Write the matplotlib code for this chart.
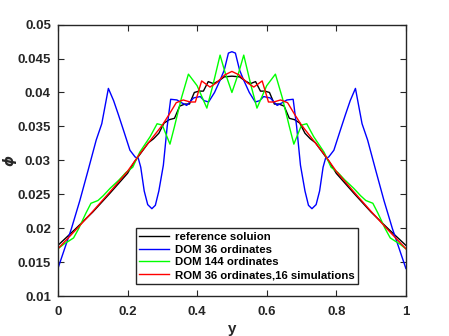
import numpy as np
import matplotlib.pyplot as plt

# reference solution
x_ref = [0.000, 0.050, 0.100, 0.150, 0.200, 0.220, 0.240, 0.260, 0.275, 0.290,
         0.305, 0.320, 0.335, 0.350, 0.365, 0.378, 0.392, 0.405, 0.418, 0.432,
         0.447, 0.462, 0.478, 0.500, 0.522, 0.538, 0.553, 0.568, 0.582, 0.595,
         0.608, 0.622, 0.635, 0.650, 0.665, 0.680, 0.695, 0.710, 0.725, 0.740,
         0.760, 0.780, 0.800, 0.850, 0.900, 0.950, 1.000]
y_ref = [0.0175, 0.0199, 0.0224, 0.0252, 0.0281, 0.0298, 0.0312, 0.0326, 0.0332, 0.0340,
         0.0355, 0.0360, 0.0362, 0.0380, 0.0383, 0.0383, 0.0400, 0.0402, 0.0402, 0.0416,
         0.0413, 0.0417, 0.0423, 0.0424, 0.0423, 0.0417, 0.0413, 0.0416, 0.0402, 0.0402,
         0.0400, 0.0383, 0.0383, 0.0380, 0.0362, 0.0360, 0.0355, 0.0340, 0.0332, 0.0326,
         0.0312, 0.0298, 0.0281, 0.0252, 0.0224, 0.0199, 0.0175]

# DOM 36 ordinates
x_d36 = [0.000, 0.039, 0.063, 0.087, 0.110, 0.126, 0.145, 0.160, 0.174, 0.190,
         0.207, 0.222, 0.231, 0.238, 0.248, 0.258, 0.270, 0.280, 0.290, 0.303,
         0.314, 0.324, 0.342, 0.355, 0.370, 0.390, 0.409, 0.420, 0.433, 0.450,
         0.466, 0.478, 0.490, 0.500, 0.510, 0.522, 0.534, 0.550, 0.567, 0.580,
         0.591, 0.610, 0.630, 0.645, 0.658, 0.676, 0.686, 0.697, 0.710, 0.720,
         0.730, 0.742, 0.752, 0.762, 0.769, 0.778, 0.793, 0.810, 0.826, 0.840,
         0.855, 0.874, 0.890, 0.913, 0.937, 0.961, 1.000]
y_d36 = [0.0141, 0.0200, 0.0241, 0.0286, 0.0330, 0.0354, 0.0406, 0.0388, 0.0367, 0.0342,
         0.0315, 0.0305, 0.0303, 0.0290, 0.0255, 0.0235, 0.0229, 0.0234, 0.0255, 0.0293,
         0.0350, 0.0390, 0.0389, 0.0385, 0.0381, 0.0392, 0.0394, 0.0388, 0.0386, 0.0400,
         0.0418, 0.0433, 0.0458, 0.0460, 0.0458, 0.0433, 0.0418, 0.0400, 0.0386, 0.0388,
         0.0394, 0.0392, 0.0381, 0.0385, 0.0389, 0.0390, 0.0350, 0.0293, 0.0255, 0.0234,
         0.0229, 0.0235, 0.0255, 0.0290, 0.0303, 0.0305, 0.0315, 0.0342, 0.0367, 0.0388,
         0.0406, 0.0354, 0.0330, 0.0286, 0.0241, 0.0200, 0.0141]

# DOM 144 ordinates
x_d144 = [0.000, 0.020, 0.030, 0.045, 0.060, 0.080, 0.095, 0.115, 0.130, 0.150,
          0.175, 0.195, 0.215, 0.235, 0.265, 0.285, 0.300, 0.322, 0.335, 0.355,
          0.375, 0.400, 0.428, 0.445, 0.466, 0.480, 0.500, 0.520, 0.534, 0.555,
          0.572, 0.600, 0.625, 0.645, 0.665, 0.678, 0.700, 0.715, 0.735, 0.765,
          0.785, 0.805, 0.825, 0.850, 0.870, 0.885, 0.905, 0.920, 0.940, 0.955,
          0.970, 0.980, 1.000]
y_d144 = [0.0170, 0.0178, 0.0181, 0.0186, 0.0200, 0.0222, 0.0237, 0.0241, 0.0248, 0.0259,
          0.0271, 0.0282, 0.0290, 0.0312, 0.0335, 0.0354, 0.0352, 0.0324, 0.0350, 0.0392,
          0.0427, 0.0410, 0.0377, 0.0410, 0.0455, 0.0430, 0.0400, 0.0430, 0.0455, 0.0410,
          0.0377, 0.0410, 0.0427, 0.0392, 0.0350, 0.0324, 0.0352, 0.0354, 0.0335, 0.0312,
          0.0290, 0.0282, 0.0271, 0.0259, 0.0248, 0.0241, 0.0237, 0.0222, 0.0200, 0.0186,
          0.0181, 0.0178, 0.0170]

# ROM 36 ordinates, 16 simulations
x_rom = [0.000, 0.050, 0.100, 0.150, 0.200, 0.236, 0.274, 0.300, 0.320, 0.340,
         0.360, 0.380, 0.395, 0.413, 0.437, 0.455, 0.480, 0.500, 0.520, 0.545,
         0.563, 0.587, 0.605, 0.620, 0.640, 0.660, 0.680, 0.700, 0.726, 0.764,
         0.800, 0.850, 0.900, 0.950, 1.000]
y_rom = [0.0170, 0.0197, 0.0225, 0.0254, 0.0284, 0.0310, 0.0335, 0.0352, 0.0368, 0.0385,
         0.0389, 0.0386, 0.0386, 0.0417, 0.0408, 0.0414, 0.0426, 0.0431, 0.0426, 0.0414,
         0.0408, 0.0417, 0.0386, 0.0386, 0.0389, 0.0385, 0.0368, 0.0352, 0.0335, 0.0310,
         0.0284, 0.0254, 0.0225, 0.0197, 0.0170]

labels = ['reference soluion', 'DOM 36 ordinates', 'DOM 144 ordinates',
          'ROM 36 ordinates,16 simulations']
x_ticks = [0, 0.2, 0.4, 0.6, 0.8, 1]
x_tick_labels = ['0', '0.2', '0.4', '0.6', '0.8', '1']
y_ticks = [0.01, 0.015, 0.02, 0.025, 0.03, 0.035, 0.04, 0.045, 0.05]
y_tick_labels = ['0.01', '0.015', '0.02', '0.025', '0.03', '0.035', '0.04', '0.045', '0.05']

plt.rcParams['font.family'] = ['Liberation Sans', 'DejaVu Sans']
plt.rcParams['font.weight'] = 'bold'
gray = '#262626'

fig = plt.figure(figsize=(4.49, 3.36), dpi=100)
ax = fig.add_axes([0.129, 0.118, 0.775, 0.809])

ax.plot(x_ref, y_ref, color='k', lw=1.0, label=labels[0])
ax.plot(x_d36, y_d36, color='#0000ff', lw=1.0, label=labels[1])
ax.plot(x_d144, y_d144, color='#00ff00', lw=1.0, label=labels[2])
ax.plot(x_rom, y_rom, color='#ff0000', lw=1.0, label=labels[3])

ax.set_xlim(0, 1)
ax.set_ylim(0.01, 0.05)
ax.set_xticks(x_ticks)
ax.set_xticklabels(x_tick_labels)
ax.set_yticks(y_ticks)
ax.set_yticklabels(y_tick_labels)
ax.tick_params(direction='in', top=True, right=True, length=4, width=0.8,
               colors=gray, labelsize=9.5)
ax.tick_params(axis='x', pad=7)
ax.tick_params(axis='y', pad=5)
for s in ax.spines.values():
    s.set_color(gray)
    s.set_linewidth(1.0)

ax.set_xlabel('y', fontsize=11, fontweight='bold', color=gray)
ax.xaxis.set_label_coords(0.5, -0.095)
ax.set_ylabel(r'$\phi$', fontsize=10, color=gray)
ax.yaxis.set_label_coords(-0.112, 0.5)

leg = ax.legend(loc='lower left', bbox_to_anchor=(0.224, 0.046), borderaxespad=0,
                fancybox=False, framealpha=1, edgecolor=gray,
                handlelength=2.6, handletextpad=0.5, labelspacing=0.26,
                borderpad=0.3, prop={'weight': 'bold', 'size': 8.2})
leg.get_frame().set_linewidth(1.0)

fig.savefig('out.png', dpi=100)
